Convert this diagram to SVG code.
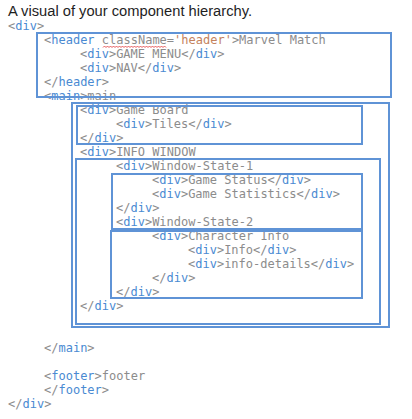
<svg xmlns="http://www.w3.org/2000/svg" width="412" height="419" viewBox="0 0 412 419">
<style>
.code{font-family:"DejaVu Sans Mono","Liberation Mono",monospace;font-size:12px;fill:#8c8c8c}
.t{fill:#4a8ad2}
.s{fill:#c4825c}
.box{fill:none;stroke:#5f93d6;stroke-width:2}
.title{font-family:"Liberation Sans","Open Sans",sans-serif;font-size:14px;fill:#1e1e1e}
</style>
<rect width="412" height="419" fill="#ffffff"/>
<text class="title" x="8" y="16" textLength="244" lengthAdjust="spacingAndGlyphs">A visual of your component hierarchy.</text>
<g id="code" class="code">
<text x="8" y="30">&lt;<tspan class="t">div</tspan>&gt;</text>
<text x="44" y="44">&lt;<tspan class="t">header</tspan> className=<tspan class="s">'header'</tspan>&gt;Marvel Match</text>
<text x="80" y="58">&lt;<tspan class="t">div</tspan>&gt;GAME MENU&lt;/<tspan class="t">div</tspan>&gt;</text>
<text x="80" y="72">&lt;<tspan class="t">div</tspan>&gt;NAV&lt;/<tspan class="t">div</tspan>&gt;</text>
<text x="44" y="86">&lt;/<tspan class="t">header</tspan>&gt;</text>
<text x="44" y="100">&lt;<tspan class="t">main</tspan>&gt;main</text>
<text x="80" y="114">&lt;<tspan class="t">div</tspan>&gt;Game Board</text>
<text x="116" y="128">&lt;<tspan class="t">div</tspan>&gt;Tiles&lt;/<tspan class="t">div</tspan>&gt;</text>
<text x="80" y="142">&lt;/<tspan class="t">div</tspan>&gt;</text>
<text x="80" y="156">&lt;<tspan class="t">div</tspan>&gt;INFO WINDOW</text>
<text x="116" y="170">&lt;<tspan class="t">div</tspan>&gt;Window-State-1</text>
<text x="152" y="184">&lt;<tspan class="t">div</tspan>&gt;Game Status&lt;/<tspan class="t">div</tspan>&gt;</text>
<text x="152" y="198">&lt;<tspan class="t">div</tspan>&gt;Game Statistics&lt;/<tspan class="t">div</tspan>&gt;</text>
<text x="116" y="212">&lt;/<tspan class="t">div</tspan>&gt;</text>
<text x="116" y="226">&lt;<tspan class="t">div</tspan>&gt;Window-State-2</text>
<text x="152" y="240">&lt;<tspan class="t">div</tspan>&gt;Character Info</text>
<text x="188" y="254">&lt;<tspan class="t">div</tspan>&gt;Info&lt;/<tspan class="t">div</tspan>&gt;</text>
<text x="188" y="268">&lt;<tspan class="t">div</tspan>&gt;info-details&lt;/<tspan class="t">div</tspan>&gt;</text>
<text x="152" y="282">&lt;/<tspan class="t">div</tspan>&gt;</text>
<text x="116" y="296">&lt;/<tspan class="t">div</tspan>&gt;</text>
<text x="80" y="310">&lt;/<tspan class="t">div</tspan>&gt;</text>
<text x="44" y="352">&lt;/<tspan class="t">main</tspan>&gt;</text>
<text x="44" y="380">&lt;<tspan class="t">footer</tspan>&gt;footer</text>
<text x="44" y="394">&lt;/<tspan class="t">footer</tspan>&gt;</text>
<text x="8" y="408">&lt;/<tspan class="t">div</tspan>&gt;</text>
<path d="M103 47.5 l1.5 -1.5 l1.5 1.5 l1.5 -1.5 l1.5 1.5 l1.5 -1.5 l1.5 1.5 l1.5 -1.5 l1.5 1.5 l1.5 -1.5 l1.5 1.5 l1.5 -1.5 l1.5 1.5 l1.5 -1.5 l1.5 1.5 l1.5 -1.5 l1.5 1.5 l1.5 -1.5 l1.5 1.5 l1.5 -1.5 l1.5 1.5 l1.5 -1.5 l1.5 1.5 l1.5 -1.5 l1.5 1.5 l1.5 -1.5 l1.5 1.5 l1.5 -1.5 l1.5 1.5 l1.5 -1.5 l1.5 1.5 l1.5 -1.5 l1.5 1.5 l1.5 -1.5 l1.5 1.5 l1.5 -1.5 l1.5 1.5 l1.5 -1.5 l1.5 1.5 l1.5 -1.5 l1.5 1.5 l1.5 -1.5 l1.5 1.5" fill="none" stroke="#e03030" stroke-width="0.8"/>
</g>
<g id="header-box"><rect class="box" x="37" y="33" width="354" height="64"/></g>
<g id="main-box"><rect class="box" x="72" y="103" width="317" height="224"/></g>
<g id="game-board-box"><rect class="box" x="77" y="106" width="285" height="38"/></g>
<g id="info-window-box"><rect class="box" x="76" y="159" width="304" height="165"/></g>
<g id="window-state-1-box"><rect class="box" x="112" y="174" width="250" height="55"/></g>
<g id="window-state-2-box"><rect class="box" x="111" y="231" width="251" height="67"/></g>
<g id="connectors"></g>
</svg>
